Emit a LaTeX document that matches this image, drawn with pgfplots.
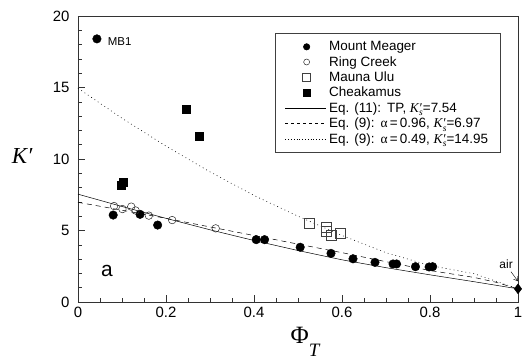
\documentclass[border=0pt]{standalone}
\usepackage{fontspec}
\setmainfont{Liberation Sans}
\newfontfamily\serif{Liberation Serif}
\usepackage{pgfplots}
\pgfplotsset{compat=1.18}
\usetikzlibrary{arrows.meta}
\pgfplotsset{
  lineleg/.style={legend image code/.code={\draw[##1] (0cm,0cm) -- (1.45cm,0cm);}},
  markleg/.style={legend image code/.code={\draw[mark repeat=2,mark phase=2,##1,mark size=#1] plot coordinates {(0cm,0cm) (0.75cm,0cm) (1.45cm,0cm)};}},
}
\newcommand\Ks{{\serif\itshape K′\kern-0.2em\raisebox{-0.55ex}{\fontsize{9.5}{9.5}\selectfont s}}}
\newcommand\al{{\serif α}}
\begin{document}
\begin{tikzpicture}
\begin{axis}[
  width=440bp, height=286bp, scale only axis,
  xmin=0, xmax=1, ymin=0, ymax=20,
  xtick={0,0.2,0.4,0.6,0.8,1}, ytick={0,5,10,15,20},
  minor x tick num=3, minor y tick num=4,
  tick align=inside, xtick pos=bottom, ytick pos=left,
  major tick length=7bp, minor tick length=4bp,
  tick style={black!80, line width=0.5pt},
  axis line style={black!80, line width=0.7pt},
  ticklabel style={font=\fontsize{15}{15}\selectfont},
  /pgf/number format/assume math mode=true,
  xticklabel style={yshift=-2bp},
  yticklabel style={xshift=-5bp},
  xlabel={{\serif\fontsize{25}{25}\selectfont Φ\raisebox{-1.1ex}{\fontsize{19}{19}\selectfont\itshape T}}},
  xlabel style={at={(axis description cs:0.516,-0.14)}, anchor=center},
  ylabel={{\serif\itshape\fontsize{23}{23}\selectfont K′}},
  ylabel style={rotate=-90, at={(axis description cs:-0.127,0.51)}, anchor=center},
  clip=false,
  legend cell align=left,
  legend style={at={(rel axis cs:0.961,0.94)}, anchor=north east,
    draw=black!75, line width=0.6pt, fill=white,
    font=\fontsize{13.5}{13.5}\selectfont, row sep=0.2bp,
    nodes={inner xsep=2.5bp},
    inner xsep=10bp, inner ysep=6bp},
]
% model curves
\addplot[black, line width=0.5pt, forget plot] coordinates {
 (0,7.54) (0.1,6.68) (0.2,5.85) (0.3,5.05) (0.4,4.3) (0.5,3.6) (0.6,2.95)
 (0.7,2.4) (0.8,1.9) (0.9,1.42) (1,0.92)};
\addplot[black, line width=0.5pt, dash pattern=on 5bp off 4bp, forget plot] coordinates {
 (0,6.97) (0.1,6.42) (0.2,5.85) (0.3,5.25) (0.4,4.65) (0.5,4.05) (0.6,3.45)
 (0.7,2.82) (0.8,2.2) (0.9,1.72) (0.95,1.38) (1,0.92)};
\addplot[black, line width=0.6pt, dash pattern=on 0.8bp off 3.2bp, forget plot] coordinates {
 (0,14.95) (0.1,12.85) (0.2,10.9) (0.3,9.1) (0.4,7.45) (0.5,6.0) (0.6,4.65)
 (0.7,3.45) (0.8,2.55) (0.9,1.98) (1,0.92)};
% data
\addplot[only marks, mark=*, mark size=4.3, black, markleg=3.2]
 coordinates {(0.043,18.4) (0.08,6.08) (0.141,6.13) (0.181,5.38) (0.405,4.36)
 (0.424,4.36) (0.505,3.83) (0.575,3.4) (0.625,3.02) (0.675,2.77) (0.716,2.66)
 (0.724,2.66) (0.767,2.47) (0.798,2.45) (0.806,2.47)};
\addlegendentry{Mount Meager}
\addplot[only marks, mark=o, mark size=3.8, black!85, mark options={fill=white, line width=0.5pt}, markleg=3]
 coordinates {(0.082,6.71) (0.101,6.5) (0.121,6.67) (0.131,6.4) (0.161,6.04)
 (0.214,5.73) (0.313,5.15)};
\addlegendentry{Ring Creek}
\addplot[only marks, mark=square, mark size=5, black!75, mark options={line width=0.5pt}, markleg=4]
 coordinates {(0.525,5.52) (0.565,5.2) (0.565,4.92) (0.576,4.64) (0.595,4.83)};
\addlegendentry{Mauna Ulu}
\addplot[only marks, mark=square*, mark size=4, black, markleg=3.3]
 coordinates {(0.099,8.2) (0.103,8.35) (0.246,13.47) (0.275,11.6)};
\addlegendentry{Cheakamus}
\addlegendimage{black, line width=0.5pt, lineleg}
\addlegendentry{Eq. (11):\hspace{6bp}TP, \Ks=7.54}
\addlegendimage{black, line width=0.5pt, dash pattern=on 3bp off 3bp, lineleg}
\addlegendentry{Eq. (9):\hspace{6bp}\al\,=\,0.96, \Ks=6.97}
\addlegendimage{black, line width=0.5pt, dash pattern=on 0.8bp off 2bp, lineleg}
\addlegendentry{Eq. (9):\hspace{6bp}\al\,=\,0.49, \Ks=14.95}
% air point
\addplot[only marks, mark=diamond*, mark size=5, black, forget plot] coordinates {(1,0.92)};
\node[font=\fontsize{12}{12}\selectfont] at (axis cs:0.973,2.66) {air};
\draw[-{Straight Barb[length=4bp,width=5bp]}, black, line width=0.4pt] (axis cs:0.984,2.12) -- (axis cs:1.0,1.45);
\node[anchor=west, font=\fontsize{11.5}{11.5}\selectfont] at (axis cs:0.06,18.2) {MB1};
\node[font=\fontsize{21}{21}\selectfont] at (axis cs:0.066,2.2) {a};
\coordinate (ll) at (rel axis cs:0,0);
\end{axis}
\pgfresetboundingbox
\path (ll) ++(-78bp,-62bp) rectangle ++(525bp,364bp);
\end{tikzpicture}
\end{document}
